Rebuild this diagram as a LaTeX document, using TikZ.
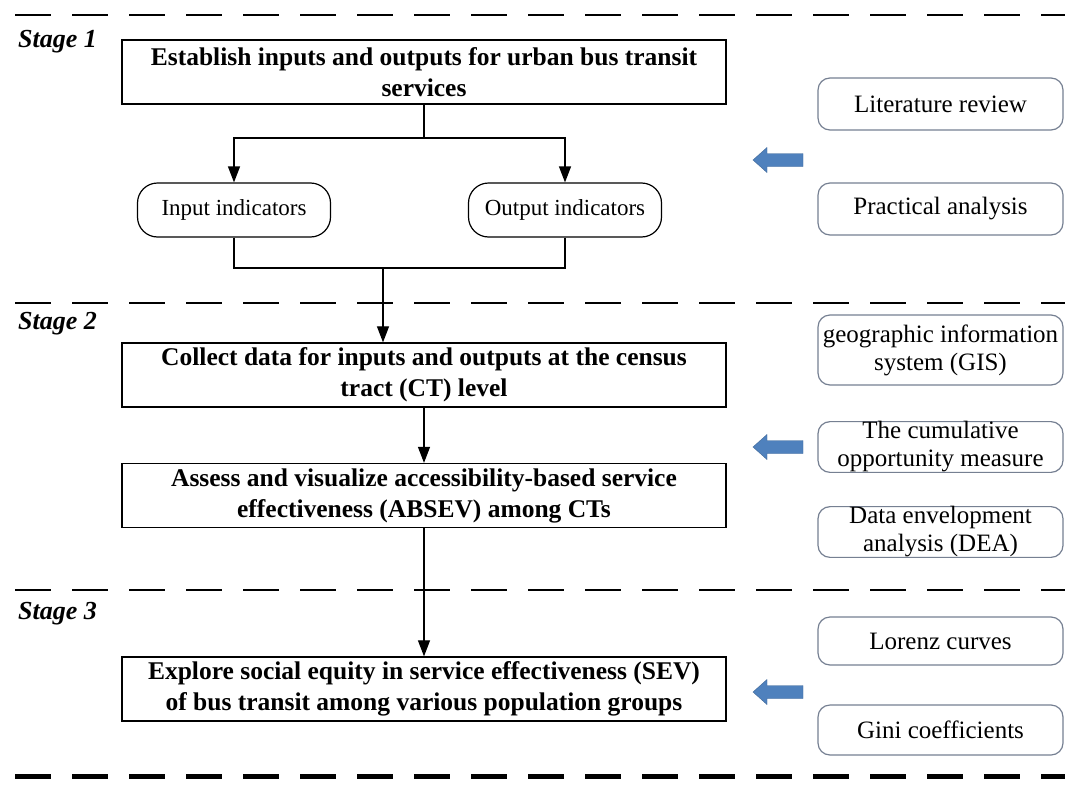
\documentclass[tikz,border=0pt]{standalone}
\usepackage{fontspec}
\setmainfont{Liberation Serif}
\usetikzlibrary{arrows.meta}
\definecolor{toolline}{RGB}{118,128,146}
\definecolor{hintblue}{RGB}{79,129,189}
\begin{document}
\begin{tikzpicture}[x=1pt,y=-1pt,
  mainbox/.style={draw, line width=1.3pt, minimum width=604pt, minimum height=64pt,
    align=center, inner sep=0pt, font=\fontsize{25.5}{31}\selectfont\bfseries},
  indbox/.style={draw, line width=1.2pt, rounded corners=20pt, minimum width=193pt,
    minimum height=54pt, inner sep=0pt, font=\fontsize{23}{28}\selectfont},
  toolbox/.style={draw=toolline, line width=1.2pt, rounded corners=12pt, minimum width=245pt,
    inner sep=0pt, align=center, font=\fontsize{25}{28}\selectfont},
  stagelabel/.style={anchor=west, inner sep=0pt, font=\fontsize{26}{30}\selectfont\bfseries\itshape},
  flow/.style={line width=1.2pt, -{Triangle[length=16pt,width=12pt]}},
  link/.style={line width=1.2pt},
  stagesep/.style={line width=2.6pt, dash pattern=on 36pt off 21pt},
  hintarrow/.style={fill=hintblue, draw=hintblue!80!black, line width=0.4pt}
]
\useasboundingbox (0,0) rectangle (1065,787);
\fill[white] (0,0) rectangle (1065,787);

% stage separators
\draw[stagesep] (15,15) -- (1065,15);
\draw[stagesep] (15,303) -- (1065,303);
\draw[stagesep] (15,590) -- (1065,590);
\draw[stagesep, line width=5pt] (15,776) -- (1065,776);

% stage labels
\node[stagelabel] (s1) at (18,42) {Stage 1};
\node[stagelabel] (s2) at (18,324) {Stage 2};
\node[stagelabel] (s3) at (18,614) {Stage 3};

% main process boxes
\node[mainbox] (b1) at (424,72) {Establish inputs and outputs for urban bus transit\\services};
\node[indbox] (in) at (234,210) {Input indicators};
\node[indbox] (out) at (565,210) {Output indicators};
\node[mainbox] (b2) at (424,375) {Collect data for inputs and outputs at the census\\tract (CT) level};
\node[mainbox] (b3) at (424,495.5) {Assess and visualize accessibility-based service\\effectiveness (ABSEV) among CTs};
\node[mainbox] (b4) at (424,689) {Explore social equity in service effectiveness (SEV)\\of bus transit among various population groups};

% connectors
\coordinate (split) at (424,138);
\coordinate (merge) at (383,268);
\draw[link] (b1.south -| split) -- (split);
\draw[flow] (split) -| (in.north);
\draw[flow] (split) -| (out.north);
\draw[link] (in.south) |- (merge);
\draw[link] (out.south) |- (merge);
\draw[flow] (merge) -- (b2.north -| merge);
\draw[flow] (b2) -- (b3);
\draw[flow] (b3) -- (b4);

% methods and tools
\node[toolbox, minimum height=52pt] (lit) at (940.5,104) {Literature review};
\node[toolbox, minimum height=52pt] (prac) at (940.5,209) {Practical analysis};
\node[toolbox, minimum height=70pt] (gis) at (940.5,350) {geographic information\\system (GIS)};
\node[toolbox, minimum height=50pt] (cum) at (940.5,447) {The cumulative\\opportunity measure};
\node[toolbox, minimum height=50pt] (dea) at (940.5,532) {Data envelopment\\analysis (DEA)};
\node[toolbox, minimum height=48pt] (lor) at (940.5,641) {Lorenz curves};
\node[toolbox, minimum height=50pt] (gini) at (940.5,730) {Gini coefficients};

% block arrows pointing to the process column
\foreach \yy in {160,447,692} {
  \fill[hintarrow] (803,\yy-6.5) -- (767,\yy-6.5) -- (767,\yy-12.5) -- (753,\yy)
    -- (767,\yy+12.5) -- (767,\yy+6.5) -- (803,\yy+6.5) -- cycle;
}
\end{tikzpicture}
\end{document}
